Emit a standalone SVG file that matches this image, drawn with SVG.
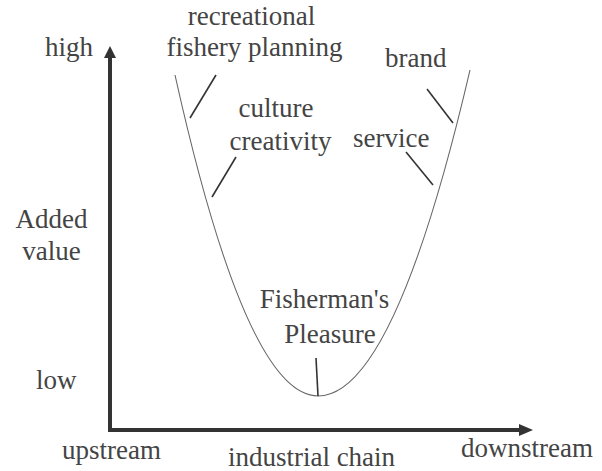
<svg xmlns="http://www.w3.org/2000/svg" width="602" height="471" viewBox="0 0 602 471">
  <rect width="602" height="471" fill="#fff"/>

  <!-- axes: value (vertical) and industrial chain (horizontal) -->
  <g id="axes">
    <path d="M110,57 V430 H519" stroke="#333" stroke-width="4" fill="none"/>
    <polygon points="110,46 104,58 116,58" fill="#333"/>
    <polygon points="533,430 519,424 519,436" fill="#333"/>
    <text x="45" y="56" font-size="27" font-family="Times New Roman" style="font-family:'Times New Roman',serif" fill="#444">high</text>
    <text x="36" y="389" font-size="27" font-family="Times New Roman" style="font-family:'Times New Roman',serif" fill="#444">low</text>
    <text x="51.5" y="228" font-size="27" font-family="Times New Roman" style="font-family:'Times New Roman',serif" fill="#444" text-anchor="middle">Added</text>
    <text x="51.5" y="260" font-size="27" font-family="Times New Roman" style="font-family:'Times New Roman',serif" fill="#444" text-anchor="middle">value</text>
    <text x="62" y="459" font-size="27" font-family="Times New Roman" style="font-family:'Times New Roman',serif" fill="#444">upstream</text>
    <text x="311.5" y="466" font-size="27" font-family="Times New Roman" style="font-family:'Times New Roman',serif" fill="#444" text-anchor="middle">industrial chain</text>
    <text x="461" y="457" font-size="27" font-family="Times New Roman" style="font-family:'Times New Roman',serif" fill="#444">downstream</text>
  </g>

  <!-- smile curve -->
  <g id="smile-curve">
    <path d="M175,75 Q246.5,396 318,396 Q394,396 470,70" stroke="#666" stroke-width="1.1" fill="none"/>
  </g>

  <!-- leader ticks from each stage label to the curve -->
  <g id="connectors" stroke="#333" stroke-width="1.6" fill="none">
    <line x1="216" y1="75" x2="190" y2="118"/>
    <line x1="236" y1="157" x2="212" y2="197"/>
    <line x1="427" y1="89" x2="453" y2="123"/>
    <line x1="406" y1="152" x2="433" y2="185"/>
    <line x1="316" y1="358" x2="318" y2="396"/>
  </g>

  <g id="recreational-fishery-planning">
    <text x="251.5" y="25" font-size="27" font-family="Times New Roman" style="font-family:'Times New Roman',serif" fill="#444" text-anchor="middle">recreational</text>
    <text x="254.5" y="56" font-size="27" font-family="Times New Roman" style="font-family:'Times New Roman',serif" fill="#444" text-anchor="middle">fishery planning</text>
  </g>
  <g id="culture-creativity">
    <text x="276" y="117" font-size="27" font-family="Times New Roman" style="font-family:'Times New Roman',serif" fill="#444" text-anchor="middle">culture</text>
    <text x="280.5" y="150" font-size="27" font-family="Times New Roman" style="font-family:'Times New Roman',serif" fill="#444" text-anchor="middle">creativity</text>
  </g>
  <g id="brand">
    <text x="385" y="67" font-size="27" font-family="Times New Roman" style="font-family:'Times New Roman',serif" fill="#444">brand</text>
  </g>
  <g id="service">
    <text x="353" y="147" font-size="27" font-family="Times New Roman" style="font-family:'Times New Roman',serif" fill="#444">service</text>
  </g>
  <g id="fishermans-pleasure">
    <text x="324.5" y="308" font-size="27" font-family="Times New Roman" style="font-family:'Times New Roman',serif" fill="#444" text-anchor="middle">Fisherman's</text>
    <text x="330" y="343" font-size="27" font-family="Times New Roman" style="font-family:'Times New Roman',serif" fill="#444" text-anchor="middle">Pleasure</text>
  </g>
</svg>
